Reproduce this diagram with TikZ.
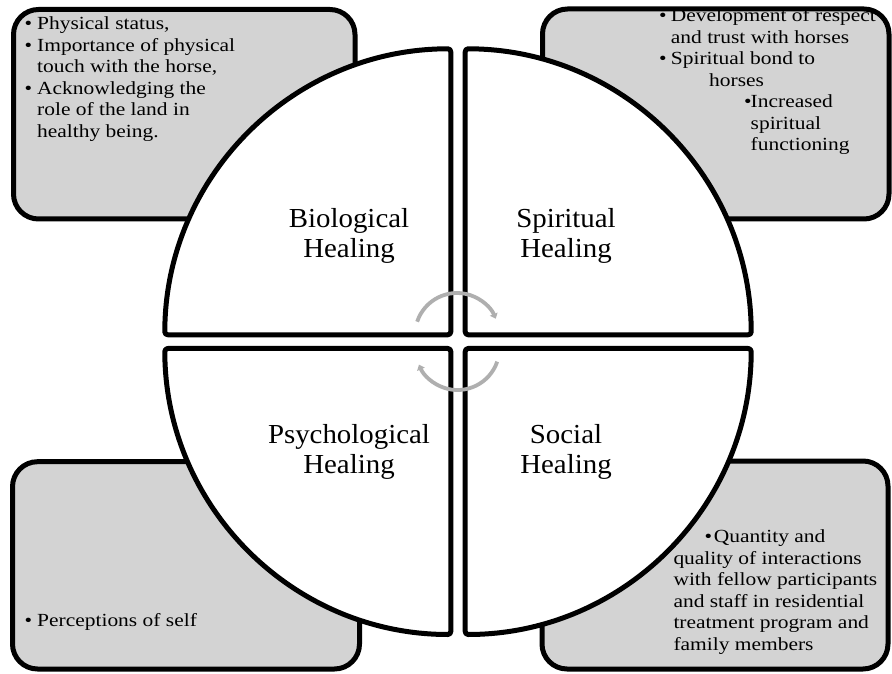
\documentclass[tikz,border=0pt]{standalone}
\usepackage{fontspec}
\setmainfont{Liberation Serif}[FakeStretch=1.16]
\newfontfamily\labelfont{Liberation Serif}[FakeStretch=1.05]
\usetikzlibrary{arrows.meta}
\definecolor{boxgray}{RGB}{211,211,211}
\definecolor{arrowgray}{RGB}{175,175,175}
\newcommand\ltxt[1]{\begin{tabular}[t]{@{}l@{}}#1\end{tabular}}
\newcommand\bul{\makebox[12.5pt][l]{•}}
\newcommand\ind{\hspace*{12.5pt}}
\begin{document}
\begin{tikzpicture}[x=1pt,y=1pt,
  infobox/.style={draw=black,line width=5pt,fill=boxgray,rounded corners=25pt},
  sector/.style={draw=black,line width=5pt,fill=white,line join=round,rounded corners=3pt},
  cyclearrow/.style={draw=arrowgray,line width=3.8pt,-{Triangle[length=5pt,width=8pt]}},
  infotext/.style={font=\fontsize{18.5}{21.5}\selectfont,inner sep=0pt,anchor=base west},
  quadlabel/.style={font=\labelfont\fontsize{27.5}{30}\selectfont,align=center,inner sep=0pt}]
\useasboundingbox (0,0) rectangle (892,673);
% side boxes
\draw[infobox] (13.5,454) rectangle (355,663.5);
\draw[infobox] (542.5,454) rectangle (889,664);
\draw[infobox] (12.5,4) rectangle (359.5,211.3);
\draw[infobox] (542,4) rectangle (888,212);
% quarter sectors
\path[sector] (450.8,338.2) -- ++(-286,0) arc[start angle=180,end angle=90,radius=286] -- cycle;
\path[sector] (465.2,338.2) -- ++(0,286) arc[start angle=90,end angle=0,radius=286] -- cycle;
\path[sector] (450.8,324.5) -- ++(0,-286) arc[start angle=270,end angle=180,radius=286] -- cycle;
\path[sector] (465.2,324.5) -- ++(286,0) arc[start angle=0,end angle=-90,radius=286] -- cycle;
% cycle arrows
\draw[cyclearrow] ([shift={(161.5:42)}]457,338) arc[start angle=161.5,end angle=22.8,radius=42];
\draw[cyclearrow] ([shift={(341:42)}]457.5,325) arc[start angle=341,end angle=203.4,radius=42];
% quadrant labels
\node[quadlabel] (biol) at (349,437) {Biological\\Healing};
\node[quadlabel] (spir) at (566,437) {Spiritual\\Healing};
\node[quadlabel] (psyc) at (349,221) {Psychological\\Healing};
\node[quadlabel] (soci) at (566,221) {Social\\Healing};
% box texts
\node[infotext] (biotext) at (24.5,643) {\ltxt{\bul Physical status,\\
  \bul Importance of physical\\
  \ind touch with the horse,\\
  \bul Acknowledging the\\
  \ind role of the land in\\
  \ind healthy being.}};
\node[infotext] (spirtext) at (659,651) {\ltxt{\makebox[11.7pt][l]{•}Development of respect\\
  \hspace*{11.7pt}and trust with horses\\
  \makebox[11.7pt][l]{•}Spiritual bond to\\
  \hspace*{50pt}horses\\
  \hspace*{85pt}\makebox[6.5pt][l]{•}Increased\\
  \hspace*{91.5pt}spiritual\\
  \hspace*{91.5pt}functioning}};
\node[infotext] (psyctext) at (24.5,47) {\ltxt{\bul Perceptions of self}};
\node[infotext] (socitext) at (673.3,130.3) {\ltxt{\hspace*{31pt}\makebox[9.5pt][l]{•}Quantity and\\
  quality of interactions\\
  with fellow participants\\
  and staff in residential\\
  treatment program and\\
  family members}};
\end{tikzpicture}
\end{document}
